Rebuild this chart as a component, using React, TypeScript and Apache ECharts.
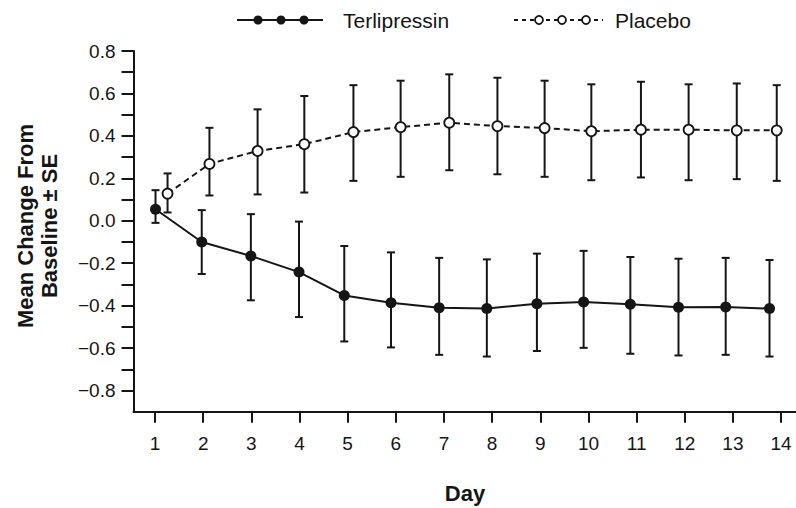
import React, { useEffect, useRef } from "react";
import * as echarts from "echarts";

const xTickValues = [1, 2, 3, 4, 5, 6, 7, 8, 9, 10, 11, 12, 13, 14];
const yTickValues = [-0.8, -0.7, -0.6, -0.5, -0.4, -0.3, -0.2, -0.1, 0, 0.1, 0.2, 0.3, 0.4, 0.5, 0.6, 0.7, 0.8];
const yLabelValues = [-0.8, -0.6, -0.4, -0.2, 0, 0.2, 0.4, 0.6, 0.8];

const tDays = [1.01, 1.97, 2.99, 3.99, 4.93, 5.9, 6.9, 7.89, 8.93, 9.9, 10.87, 11.87, 12.85, 13.76];
const tMean = [0.054, -0.1, -0.166, -0.242, -0.352, -0.386, -0.41, -0.414, -0.391, -0.383, -0.394, -0.408, -0.407, -0.414];
const tUpper = [0.144, 0.05, 0.031, -0.004, -0.119, -0.149, -0.175, -0.182, -0.155, -0.142, -0.171, -0.179, -0.175, -0.185];
const tLower = [-0.01, -0.251, -0.375, -0.454, -0.569, -0.597, -0.632, -0.64, -0.614, -0.599, -0.627, -0.635, -0.632, -0.64];

const pDays = [1.26, 2.13, 3.13, 4.1, 5.12, 6.1, 7.11, 8.11, 9.09, 10.06, 11.09, 12.08, 13.08, 13.91];
const pMean = [0.128, 0.268, 0.329, 0.361, 0.418, 0.441, 0.462, 0.446, 0.437, 0.422, 0.429, 0.429, 0.426, 0.426];
const pUpper = [0.223, 0.438, 0.525, 0.588, 0.639, 0.66, 0.69, 0.674, 0.66, 0.643, 0.655, 0.643, 0.647, 0.639];
const pLower = [0.039, 0.119, 0.124, 0.133, 0.188, 0.207, 0.238, 0.219, 0.207, 0.191, 0.204, 0.191, 0.196, 0.188];

const FONT = '"Liberation Sans", Arial, Helvetica, sans-serif';
const INK = "#151515";

function errorBarRender(params: any, api: any) {
  const x = api.value(0);
  const lo = api.coord([x, api.value(1)]);
  const hi = api.coord([x, api.value(2)]);
  const hw = 4;
  const style = { stroke: INK, lineWidth: 2 };
  return {
    type: "group",
    children: [
      { type: "line", shape: { x1: lo[0], y1: lo[1], x2: hi[0], y2: hi[1] }, style },
      { type: "line", shape: { x1: lo[0] - hw, y1: lo[1], x2: lo[0] + hw, y2: lo[1] }, style },
      { type: "line", shape: { x1: hi[0] - hw, y1: hi[1], x2: hi[0] + hw, y2: hi[1] }, style },
    ],
  };
}

export default function App() {
  const ref = useRef<HTMLDivElement>(null);
  useEffect(() => {
    if (!ref.current) return;
    const chart = echarts.init(ref.current, null, { renderer: "svg" });
    const fmt = (v: number) => {
      const s = Math.abs(v).toFixed(1);
      return v < -1e-9 ? "\u2212" + s : s;
    };
    chart.setOption({
      animation: false,
      backgroundColor: "#ffffff",
      grid: { left: 133.5, right: 0, top: 51, bottom: 96.3, containLabel: false },
      xAxis: {
        type: "value",
        min: 0.553,
        max: 14.31,
        axisLine: { show: true, onZero: false, lineStyle: { color: INK, width: 2 } },
        axisTick: { show: true, length: 11, customValues: xTickValues, lineStyle: { color: INK, width: 2 } },
        axisLabel: { customValues: xTickValues, color: INK, fontSize: 19, fontFamily: FONT, margin: 22 },
        splitLine: { show: false },
      },
      yAxis: {
        type: "value",
        min: -0.9,
        max: 0.8,
        axisLine: { show: true, onZero: false, lineStyle: { color: INK, width: 2 } },
        axisTick: { show: true, length: 12, customValues: yTickValues, lineStyle: { color: INK, width: 2 } },
        axisLabel: { customValues: yLabelValues, color: INK, fontSize: 19, fontFamily: FONT, margin: 18, formatter: fmt },
        splitLine: { show: false },
      },
      graphic: [
        {
          type: "text",
          x: 37,
          y: 226,
          rotation: Math.PI / 2,
          style: {
            text: "Mean Change From\nBaseline \u00b1 SE",
            fontSize: 22,
            fontWeight: "bold",
            fontFamily: FONT,
            fill: INK,
            align: "center",
            verticalAlign: "middle",
            lineHeight: 24,
          },
        },
        {
          type: "text",
          x: 465,
          y: 493,
          style: { text: "Day", fontSize: 22, fontWeight: "bold", fontFamily: FONT, fill: INK, align: "center", verticalAlign: "middle" },
        },
        { type: "line", shape: { x1: 237, y1: 20, x2: 323, y2: 20 }, style: { stroke: INK, lineWidth: 2 } },
        { type: "circle", shape: { cx: 258, cy: 20, r: 4.5 }, style: { fill: INK } },
        { type: "circle", shape: { cx: 281, cy: 20, r: 4.5 }, style: { fill: INK } },
        { type: "circle", shape: { cx: 304, cy: 20, r: 4.5 }, style: { fill: INK } },
        {
          type: "text",
          x: 343,
          y: 20,
          style: { text: "Terlipressin", fontSize: 21, fontFamily: FONT, fill: INK, align: "left", verticalAlign: "middle" },
        },
        { type: "line", shape: { x1: 514, y1: 20, x2: 603, y2: 20 }, style: { stroke: INK, lineWidth: 2, lineDash: [4, 4] } },
        { type: "circle", shape: { cx: 539, cy: 20, r: 4 }, style: { fill: "#fff", stroke: INK, lineWidth: 1.8 } },
        { type: "circle", shape: { cx: 562, cy: 20, r: 4 }, style: { fill: "#fff", stroke: INK, lineWidth: 1.8 } },
        { type: "circle", shape: { cx: 586, cy: 20, r: 4 }, style: { fill: "#fff", stroke: INK, lineWidth: 1.8 } },
        {
          type: "text",
          x: 615,
          y: 20,
          style: { text: "Placebo", fontSize: 21, fontFamily: FONT, fill: INK, align: "left", verticalAlign: "middle" },
        },
      ],
      series: [
        {
          name: "Terlipressin SE",
          type: "custom",
          renderItem: errorBarRender,
          encode: { x: 0, y: [1, 2] },
          data: tDays.map((d, i) => [d, tLower[i], tUpper[i]]),
          z: 1,
        },
        {
          name: "Placebo SE",
          type: "custom",
          renderItem: errorBarRender,
          encode: { x: 0, y: [1, 2] },
          data: pDays.map((d, i) => [d, pLower[i], pUpper[i]]),
          z: 1,
        },
        {
          name: "Terlipressin",
          type: "line",
          data: tDays.map((d, i) => [d, tMean[i]]),
          symbol: "circle",
          symbolSize: 11,
          showAllSymbol: true,
          lineStyle: { color: INK, width: 2 },
          itemStyle: { color: INK, borderWidth: 0 },
          z: 3,
        },
        {
          name: "Placebo",
          type: "line",
          data: pDays.map((d, i) => [d, pMean[i]]),
          symbol: "circle",
          symbolSize: 10,
          showAllSymbol: true,
          lineStyle: { color: INK, width: 2, type: [6, 4] },
          itemStyle: { color: "#ffffff", borderColor: INK, borderWidth: 1.8 },
          z: 3,
        },
      ],
    });
    return () => chart.dispose();
  }, []);
  return (
    <div
      ref={ref}
      style={{ position: "fixed", left: 0, top: 0, width: 796, height: 508, background: "#fff" }}
    />
  );
}
